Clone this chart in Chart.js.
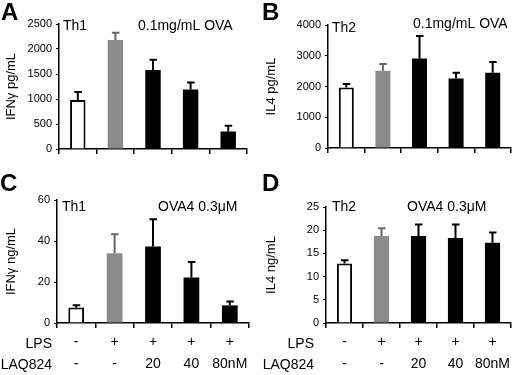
<!DOCTYPE html>
<html>
<head>
<meta charset="utf-8">
<script src="https://cdn.jsdelivr.net/npm/chart.js@4.4.1/dist/chart.umd.min.js"></script>
<style>
  body { margin: 0; background: #fff; }
  #wrap { position: relative; width: 520px; height: 375px; font-family: 'Liberation Sans', Arial, sans-serif; }
  canvas { position: absolute; }
  .letter { position: absolute; font-weight: bold; font-size: 24px; line-height: 24px; color: #000; }
  .rowlab { position: absolute; width: 60px; text-align: right; font-size: 14px; line-height: 16px; color: #000; }
</style>
</head>
<body>
<div id="wrap">
  <canvas id="chartA" width="260" height="170" style="left:0;top:0"></canvas>
  <canvas id="chartB" width="260" height="170" style="left:260px;top:0"></canvas>
  <canvas id="chartC" width="260" height="205" style="left:0;top:170px"></canvas>
  <canvas id="chartD" width="260" height="205" style="left:260px;top:170px"></canvas>
  <div class="letter" style="left:1px;top:0">A</div>
  <div class="letter" style="left:262px;top:0">B</div>
  <div class="letter" style="left:0;top:171px">C</div>
  <div class="letter" style="left:262px;top:171px">D</div>
  <div class="rowlab" style="left:-8px;top:335px">LPS</div>
  <div class="rowlab" style="left:-8px;top:356px">LAQ824</div>
  <div class="rowlab" style="left:254px;top:335px">LPS</div>
  <div class="rowlab" style="left:254px;top:356px">LAQ824</div>
</div>
<script>
// bar values
const conditions = [['-', '-'], ['+', '-'], ['+', '20'], ['+', '40'], ['+', '80nM']];

const ifngOva = [980, 2180, 1580, 1190, 350];
const ifngOvaErr = [160, 146, 206, 139, 113];

const il4Ova = [1970, 2510, 2910, 2260, 2450];
const il4OvaErr = [110, 220, 730, 190, 350];

const ifngPep = [7.6, 34, 37.3, 22.2, 8.6];
const ifngPepErr = [1.0, 9.3, 13.3, 7.5, 1.9];

const il4Pep = [12.8, 18.75, 18.75, 18.3, 17.3];
const il4PepErr = [0.7, 1.65, 2.5, 2.95, 2.2];

const barFill = ['#ffffff', '#8a8a8a', '#000000', '#000000', '#000000'];
const errColor = ['#000000', '#666666', '#000000', '#000000', '#000000'];

const FONT = "'Liberation Sans', Arial, sans-serif";

// error bars: only the upper whisker, drawn via the y scale
const errorBars = {
    id: 'errorBars',
    afterDatasetsDraw(chart) {
        const errs = chart.options.plugins.errorBars.values;
        const meta = chart.getDatasetMeta(0);
        const vals = chart.data.datasets[0].data;
        const y = chart.scales.y;
        const ctx = chart.ctx;
        ctx.save();
        ctx.lineWidth = 2;
        meta.data.forEach((bar, i) => {
            const top = y.getPixelForValue(vals[i] + errs[i]);
            ctx.strokeStyle = errColor[i];
            ctx.beginPath();
            ctx.moveTo(bar.x, bar.y);
            ctx.lineTo(bar.x, top);
            ctx.moveTo(bar.x - 3.5, top);
            ctx.lineTo(bar.x + 4, top);
            ctx.stroke();
        });
        ctx.restore();
    }
};

// small text notes inside the plot
const notes = {
    id: 'notes',
    afterDraw(chart) {
        const list = chart.options.plugins.notes.items || [];
        const area = chart.chartArea;
        const ctx = chart.ctx;
        ctx.save();
        ctx.fillStyle = '#000';
        ctx.font = '14px ' + FONT;
        ctx.textBaseline = 'middle';
        list.forEach(n => ctx.fillText(n.text, area.left + n.dx, area.top + n.dy));
        ctx.restore();
    }
};

function makeChart(id, opt) {
    const canvas = document.getElementById(id);
    return new Chart(canvas, {
        type: 'bar',
        data: {
            labels: opt.bottom ? conditions : ['', '', '', '', ''],
            datasets: [{
                data: opt.values,
                backgroundColor: barFill,
                borderColor: '#000',
                borderWidth: [2, 0, 0, 0, 0],
                borderSkipped: 'bottom',
                categoryPercentage: 1,
                barPercentage: 0.41
            }]
        },
        options: {
            responsive: false,
            animation: false,
            layout: {
                padding: { left: 0, top: opt.area.top, right: canvas.width - opt.area.right, bottom: 0 }
            },
            plugins: {
                legend: { display: false },
                tooltip: { enabled: false },
                errorBars: { values: opt.errors },
                notes: { items: opt.notes }
            },
            scales: {
                x: {
                    afterFit: s => { s.height = canvas.height - opt.area.bottom; },
                    border: { display: true, color: '#000', width: 1.5 },
                    grid: { display: true, offset: true, drawOnChartArea: false, drawTicks: true, tickLength: 5, color: '#000', lineWidth: 1.5 },
                    ticks: {
                        display: !!opt.bottom,
                        color: '#000',
                        padding: 3,
                        maxRotation: 0,
                        minRotation: 0,
                        autoSkip: false,
                        font: { family: FONT, size: 14, lineHeight: '22px' }
                    }
                },
                y: {
                    min: 0,
                    max: opt.max,
                    afterFit: s => { s.width = opt.area.left; },
                    border: { display: true, color: '#000', width: 1.5 },
                    grid: { display: true, drawOnChartArea: false, drawTicks: true, tickLength: 3, color: '#000' },
                    ticks: {
                        stepSize: opt.step,
                        color: '#000',
                        padding: 4,
                        callback: v => String(v),
                        font: { family: FONT, size: 11 }
                    },
                    title: {
                        display: true,
                        text: opt.title,
                        color: '#000',
                        padding: { top: 4, bottom: 0 },
                        font: { family: FONT, size: 13 }
                    }
                }
            }
        },
        plugins: [errorBars, notes]
    });
}

makeChart('chartA', {
    values: ifngOva, errors: ifngOvaErr, max: 2500, step: 500,
    title: 'IFNγ pg/mL',
    area: { left: 59, top: 24, right: 247, bottom: 149 },
    notes: [{ text: 'Th1', dx: 4, dy: 2 }, { text: '0.1mg/mL OVA', dx: 79, dy: 2 }]
});

makeChart('chartB', {
    values: il4Ova, errors: il4OvaErr, max: 4000, step: 1000,
    title: 'IL4 pg/mL',
    area: { left: 68, top: 25, right: 251, bottom: 148 },
    notes: [{ text: 'Th2', dx: 4, dy: 3 }, { text: '0.1mg/mL OVA', dx: 85, dy: -1 }]
});

makeChart('chartC', {
    values: ifngPep, errors: ifngPepErr, max: 60, step: 20,
    title: 'IFNγ ng/mL', bottom: true,
    area: { left: 57, top: 30, right: 249, bottom: 153 },
    notes: [{ text: 'Th1', dx: 5, dy: 7 }, { text: 'OVA4 0.3μM', dx: 101, dy: 7 }]
});

makeChart('chartD', {
    values: il4Pep, errors: il4PepErr, max: 25, step: 5,
    title: 'IL4 ng/mL', bottom: true,
    area: { left: 66, top: 37, right: 251, bottom: 153 },
    notes: [{ text: 'Th2', dx: 6, dy: 0 }, { text: 'OVA4 0.3μM', dx: 81, dy: 0 }]
});
</script>
</body>
</html>
